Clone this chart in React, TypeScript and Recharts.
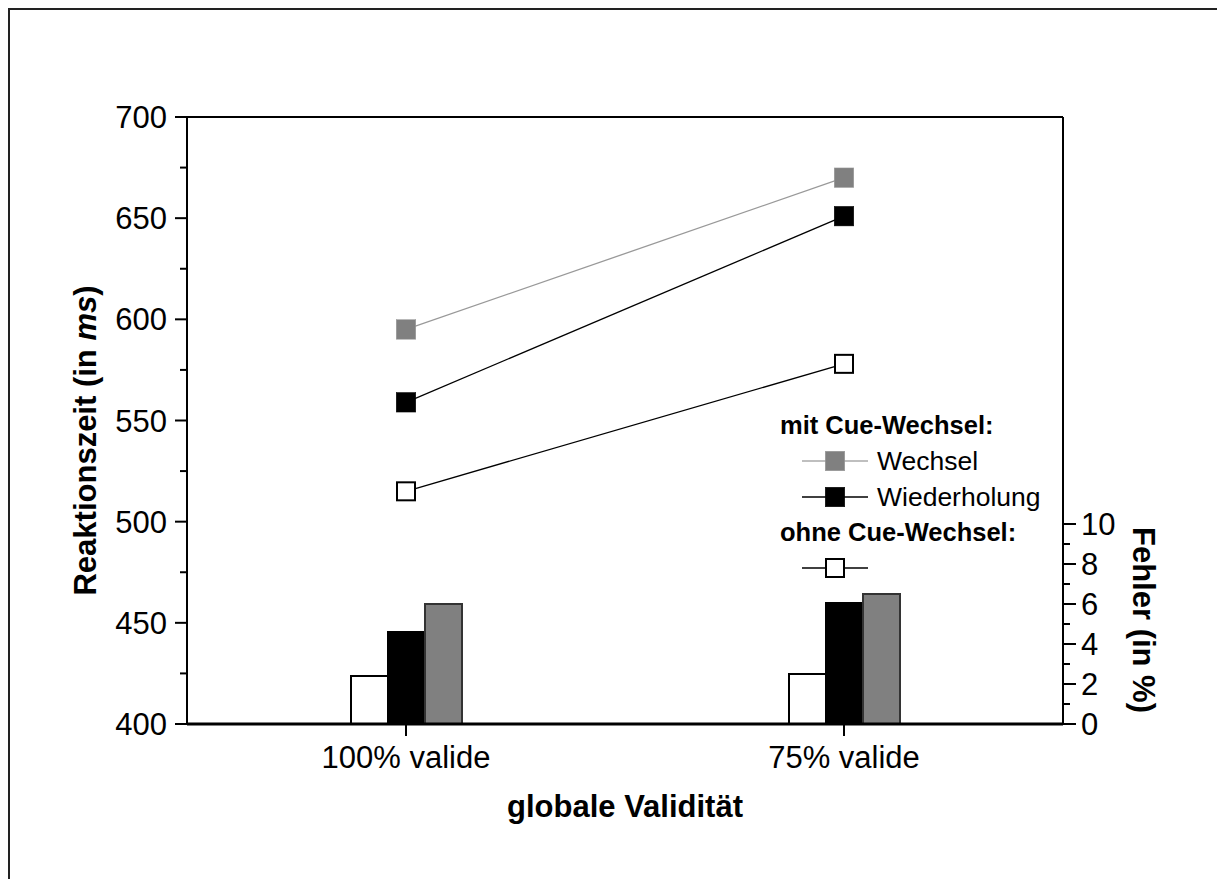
import React from 'react';
import { ComposedChart, Bar, Line, XAxis, YAxis, ReferenceLine, Legend, Label } from 'recharts';

const FONT = '"Liberation Sans", Arial, Helvetica, sans-serif';

const categories = ['100% valide', '75% valide'];

// Reaktionszeit (ms)
const rtWechsel = [595, 670];
const rtWiederholung = [559, 651];
const rtOhne = [515, 578];

// Fehler (%)
const errOhne = [2.4, 2.5];
const errWiederholung = [4.6, 6.05];
const errWechsel = [6.0, 6.5];

const msTicks = [400, 425, 450, 475, 500, 525, 550, 575, 600, 625, 650, 675, 700];
const msInnerTicks = [525, 550, 575, 600, 625, 650, 675];
const errTicks = [0, 1, 2, 3, 4, 5, 6, 7, 8, 9, 10];

const data = categories.map((cond, i) => ({
  cond,
  rtWechsel: rtWechsel[i],
  rtWiederholung: rtWiederholung[i],
  rtOhne: rtOhne[i],
  errOhne: errOhne[i],
  errWiederholung: errWiederholung[i],
  errWechsel: errWechsel[i],
}));

const squareDot = (fill: string, stroke: string, sw: number) => (props: any) => {
  const { cx, cy, index } = props;
  if (cx == null || cy == null) return <g key={index} />;
  const s = 20 - sw;
  return (
    <rect key={index} x={cx - s / 2} y={cy - s / 2} width={s} height={s}
      fill={fill} stroke={stroke} strokeWidth={sw} />
  );
};

const LeftTick = (props: any) => {
  const { x, y, payload } = props;
  const axisX = x + 12;
  const major = payload.value % 50 === 0;
  return (
    <g>
      <line x1={axisX - (major ? 12 : 7)} x2={axisX} y1={y} y2={y} stroke="#000" strokeWidth={2} />
      {major && (
        <text x={axisX - 20} y={y} dy={11} textAnchor="end" fontSize={31} fontFamily={FONT} fill="#000">
          {payload.value}
        </text>
      )}
    </g>
  );
};

const RightTick = (props: any) => {
  const { x, y, payload } = props;
  const axisX = x - 13;
  const major = payload.value % 2 === 0;
  return (
    <g>
      <line x1={axisX} x2={axisX + (major ? 13 : 7)} y1={y} y2={y} stroke="#000" strokeWidth={2} />
      {major && (
        <text x={axisX + 18} y={y} dy={11} textAnchor="start" fontSize={31} fontFamily={FONT} fill="#000">
          {payload.value}
        </text>
      )}
    </g>
  );
};

const LeftTitle = (props: any) => {
  const { viewBox } = props;
  const x = viewBox.x + 86;
  const y = viewBox.y + viewBox.height / 2 + 20;
  return (
    <text x={x} y={y} transform={`rotate(-90 ${x} ${y})`} textAnchor="middle"
      fontSize={31} fontWeight="bold" fontFamily={FONT} fill="#000">
      Reaktionszeit (in <tspan fontStyle="italic">ms</tspan>)
    </text>
  );
};

const RightTitle = (props: any) => {
  const { viewBox } = props;
  const x = viewBox.x + 70;
  const y = viewBox.y + viewBox.height - 104;
  return (
    <text x={x} y={y} transform={`rotate(90 ${x} ${y})`} textAnchor="middle"
      fontSize={31} fontWeight="bold" fontFamily={FONT} fill="#000">
      Fehler (in %)
    </text>
  );
};

const BottomTitle = (props: any) => {
  const { viewBox } = props;
  return (
    <text x={viewBox.x + viewBox.width / 2} y={viewBox.y + 93} textAnchor="middle"
      fontSize={31} fontWeight="bold" fontFamily={FONT} fill="#000">
      globale Validität
    </text>
  );
};

const LegendBox = () => {
  const row = (y: number, line: string, fill: string, stroke: string, sw: number, label?: string) => (
    <g>
      <line x1={32} x2={98} y1={y} y2={y} stroke={line} strokeWidth={1.3} />
      <rect x={65 - (20 - sw) / 2} y={y - (20 - sw) / 2} width={20 - sw} height={20 - sw}
        fill={fill} stroke={stroke} strokeWidth={sw} />
      {label && (
        <text x={107} y={y + 9} fontSize={26.5} fontFamily={FONT} fill="#000">{label}</text>
      )}
    </g>
  );
  return (
    <svg width={300} height={175} style={{ display: 'block' }}>
      <text x={10} y={24} fontSize={25.5} fontWeight="bold" fontFamily={FONT} fill="#000">mit Cue-Wechsel:</text>
      {row(51, '#aaa', '#808080', '#999', 0.5, 'Wechsel')}
      {row(87, '#000', '#000', '#000', 0.5, 'Wiederholung')}
      <text x={10} y={131} fontSize={25.5} fontWeight="bold" fontFamily={FONT} fill="#000">ohne Cue-Wechsel:</text>
      {row(158, '#000', '#fff', '#000', 2)}
    </svg>
  );
};

export default function App() {
  return (
    <div
      style={{
        width: 1208,
        height: 890,
        borderTop: '2px solid #222',
        borderLeft: '2px solid #222',
        borderRight: '2px solid #222',
        position: 'relative',
        background: '#fff',
      }}
    >
      <style>{'html,body{overflow:hidden}'}</style>
      <ComposedChart width={1208} height={861} data={data}
        margin={{ top: 107, right: 0, bottom: 0, left: 0 }} barGap={0}>
        <XAxis dataKey="cond" height={147} axisLine={{ stroke: '#000', strokeWidth: 3 }}
          tickLine={{ stroke: '#000', strokeWidth: 2 }} tickSize={12} tickMargin={10}
          tick={{ fontSize: 31, fill: '#000', fontFamily: FONT }}>
          <Label content={BottomTitle} />
        </XAxis>
        <YAxis yAxisId="ms" orientation="left" width={177} type="number" domain={[400, 700]}
          ticks={msTicks} interval={0} allowDataOverflow axisLine={{ stroke: '#000', strokeWidth: 2 }}
          tickLine={false} tickSize={12} tickMargin={0} tick={LeftTick}>
          <Label content={LeftTitle} />
        </YAxis>
        <YAxis yAxisId="msR" orientation="right" width={0} type="number" domain={[400, 700]}
          ticks={msInnerTicks} interval={0} allowDataOverflow axisLine={false}
          tickLine={{ stroke: '#000', strokeWidth: 2 }} tickSize={2} tick={() => <g />} />
        <YAxis yAxisId="err" orientation="right" width={155} type="number" domain={[0, 30.35]}
          ticks={errTicks} interval={0} allowDataOverflow axisLine={{ stroke: '#000', strokeWidth: 2 }}
          tickLine={false} tickSize={13} tickMargin={0} tick={RightTick}>
          <Label content={RightTitle} />
        </YAxis>
        <ReferenceLine yAxisId="ms" y={700} stroke="#000" strokeWidth={2} />
        <Bar yAxisId="err" dataKey="errOhne" barSize={37} fill="#fff" stroke="#000" strokeWidth={2} isAnimationActive={false} />
        <Bar yAxisId="err" dataKey="errWiederholung" barSize={37} fill="#000" stroke="#000" strokeWidth={2} isAnimationActive={false} />
        <Bar yAxisId="err" dataKey="errWechsel" barSize={37} fill="#808080" stroke="#333" strokeWidth={2} isAnimationActive={false} />
        <Line yAxisId="ms" type="linear" dataKey="rtWechsel" stroke="#999" strokeWidth={1.3}
          dot={squareDot('#808080', '#999', 0.5)} activeDot={false} isAnimationActive={false} />
        <Line yAxisId="ms" type="linear" dataKey="rtWiederholung" stroke="#000" strokeWidth={1.3}
          dot={squareDot('#000', '#000', 0.5)} activeDot={false} isAnimationActive={false} />
        <Line yAxisId="ms" type="linear" dataKey="rtOhne" stroke="#000" strokeWidth={1.3}
          dot={squareDot('#fff', '#000', 2)} activeDot={false} isAnimationActive={false} />
        <Legend layout="vertical" align="center" verticalAlign="middle" content={LegendBox}
          wrapperStyle={{ position: 'absolute', left: 760, top: 400, width: 300, height: 175 }} />
      </ComposedChart>
    </div>
  );
}
